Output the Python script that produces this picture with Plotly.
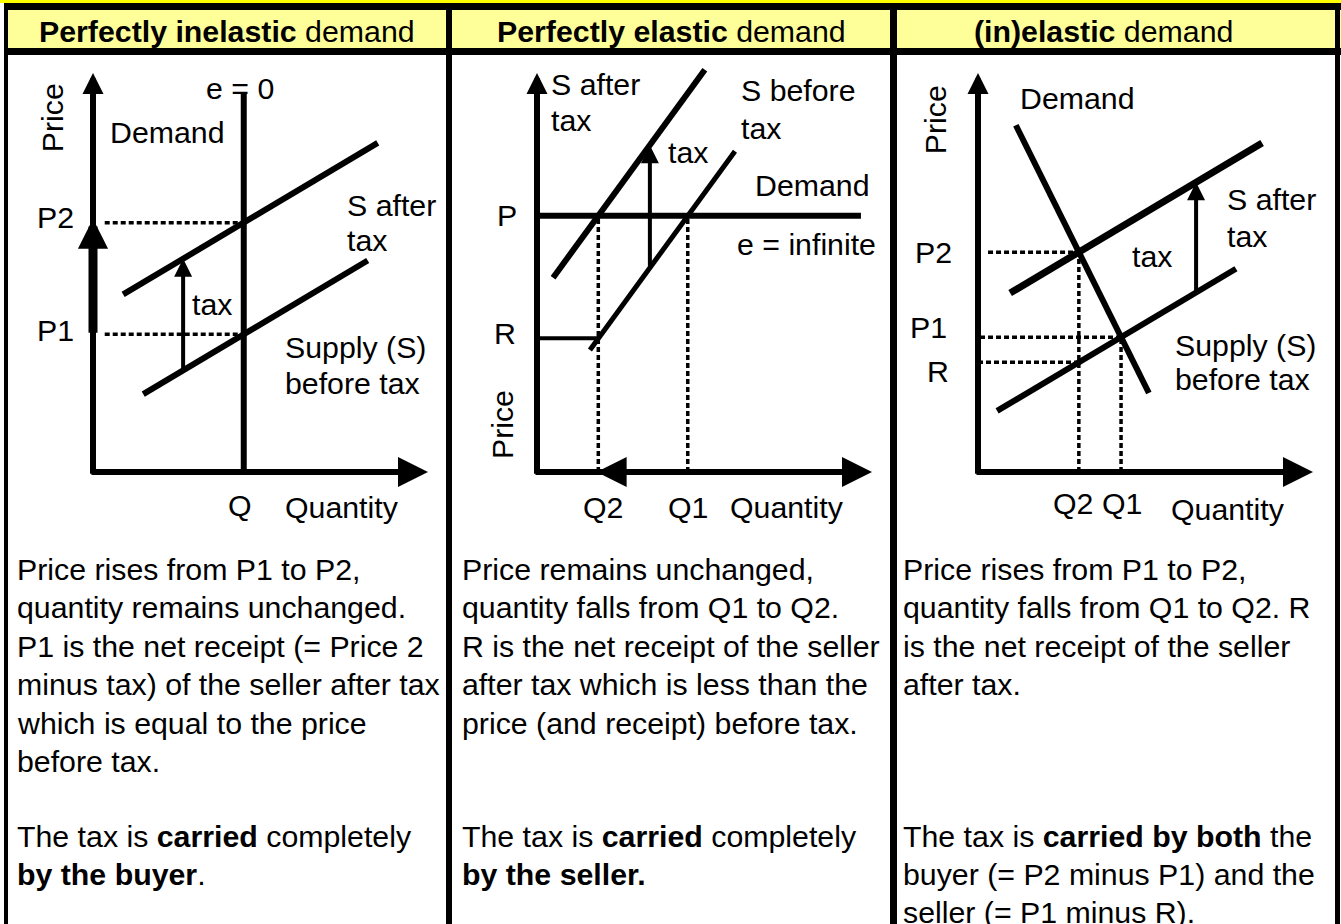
import plotly.graph_objects as go

W, H = 1341, 924
FONT = "Liberation Sans, Arial, sans-serif"
FS = 30.3

# ---------------- data (conceptual units: Quantity, Price) ----------------
# Panel 1 - perfectly inelastic demand
p1_Q = 4.5
p1_P1 = 3.45
p1_P2 = 6.25
p1_demand_q = [4.5, 4.5]
p1_demand_p = [0.0, 9.5]
p1_supply_q = [1.5, 8.2]
p1_supply_p = [1.95, 5.30]
p1_safter_q = [0.9, 8.5]
p1_safter_p = [4.45, 8.25]
p1_tax_q = 2.69
p1_tax_p = [2.545, 5.345]

# Panel 2 - perfectly elastic demand
p2_P = 6.42
p2_R = 3.35
p2_Q1 = 4.5
p2_Q2 = 1.83
p2_demand_q = [0.0, 9.67]
p2_demand_p = [6.42, 6.42]
p2_sbefore_q = [1.58, 5.91]
p2_sbefore_p = [3.06, 8.04]
p2_safter_q = [0.48, 5.01]
p2_safter_p = [4.87, 10.08]
p2_tax_q = 3.37
p2_tax_p = [5.12, 8.19]

# Panel 3 - (in)elastic demand
p3_Q1 = 4.27
p3_Q2 = 3.01
p3_P1 = 3.38
p3_P2 = 5.51
p3_R = 2.75
p3_demand_q = [1.13, 5.10]
p3_demand_p = [8.69, 1.98]
p3_sbefore_q = [0.57, 7.70]
p3_sbefore_p = [1.53, 5.095]
p3_safter_q = [0.96, 8.48]
p3_safter_p = [4.485, 8.245]
p3_tax_q = 6.51
p3_tax_p = [4.50, 7.26]

AXIS_MAX = 10.0

headers = [
    "<b>Perfectly inelastic</b> demand",
    "<b>Perfectly elastic</b> demand",
    "<b>(in)elastic</b> demand",
]
body_top = [
    ["Price rises from P1 to P2,", "quantity remains unchanged.",
     "P1 is the net receipt (= Price 2", "minus tax) of the seller after tax",
     "which is equal to the price", "before tax."],
    ["Price remains unchanged,", "quantity falls from Q1 to Q2.",
     "R is the net receipt of the seller", "after tax which is less than the",
     "price (and receipt) before tax."],
    ["Price rises from P1 to P2,", "quantity falls from Q1 to Q2. R",
     "is the net receipt of the seller", "after tax."],
]
body_bottom = [
    ["The tax is <b>carried</b> completely", "<b>by the buyer</b>."],
    ["The tax is <b>carried</b> completely", "<b>by the seller.</b>"],
    ["The tax is <b>carried by both</b> the", "buyer (= P2 minus P1) and the",
     "seller (= P1 minus R)."],
]

# ---------------- layout geometry (pixels) ----------------
UX, UY = 33.5, 39.9
panels = [
    dict(ox=93, oy=472, cx0=8, cx1=446),
    dict(ox=537, oy=472, cx0=452, cx1=890),
    dict(ox=978, oy=472, cx0=897, cx1=1335),
]
CY0, CY1 = 56, 540
col_text_x = [15, 460, 901]
col_head_x = [227, 671, 1103]


def px(x):
    return x / W


def py(y):
    return 1 - y / H


fig = go.Figure()
layout = dict(width=W, height=H, margin=dict(l=0, r=0, t=0, b=0),
              paper_bgcolor="white", plot_bgcolor="rgba(0,0,0,0)",
              showlegend=False, font=dict(family=FONT, size=FS, color="black"))
for i, pn in enumerate(panels):
    s = "" if i == 0 else str(i + 1)
    layout["xaxis" + s] = dict(domain=[px(pn["cx0"]), px(pn["cx1"])],
                               range=[(pn["cx0"] - pn["ox"]) / UX, (pn["cx1"] - pn["ox"]) / UX],
                               visible=False, fixedrange=True, anchor="y" + s)
    layout["yaxis" + s] = dict(domain=[py(CY1), py(CY0)],
                               range=[(pn["oy"] - CY1) / UY, (pn["oy"] - CY0) / UY],
                               visible=False, fixedrange=True, anchor="x" + s)
fig.update_layout(**layout)

annotations = []
shapes = []


def line(q, p, ax, width=6, dash=None):
    s = "" if ax == 1 else str(ax)
    fig.add_trace(go.Scatter(x=q, y=p, mode="lines", xaxis="x" + s, yaxis="y" + s,
                             line=dict(color="black", width=width, dash=dash),
                             hoverinfo="skip", showlegend=False))


def dotted(q, p, ax):
    line(q, p, ax, width=3.5, dash="5px,3px")


def arrow(q0, p0, q1, p1, ax, width=4, size=0.9):
    s = "" if ax == 1 else str(ax)
    annotations.append(dict(x=q1, y=p1, ax=q0, ay=p0, xref="x" + s, yref="y" + s,
                            axref="x" + s, ayref="y" + s, text="", showarrow=True,
                            arrowhead=2, arrowwidth=width, arrowsize=size,
                            arrowcolor="black", standoff=0, startstandoff=0))


def label(q, p, text, ax, xanchor="center", angle=0):
    s = "" if ax == 1 else str(ax)
    annotations.append(dict(x=q, y=p, xref="x" + s, yref="y" + s, text=text,
                            showarrow=False, xanchor=xanchor, yanchor="middle",
                            textangle=angle, font=dict(family=FONT, size=FS, color="black")))


def axes(ax):
    arrow(0, -0.08, 0, AXIS_MAX, ax, width=6, size=0.7)
    arrow(-0.09, 0, AXIS_MAX, 0, ax, width=6, size=1.0)


# ---- Panel 1 ----
axes(1)
line(p1_demand_q, p1_demand_p, 1)
line(p1_supply_q, p1_supply_p, 1)
line(p1_safter_q, p1_safter_p, 1)
dotted([0.35, p1_Q - 0.1], [p1_P2, p1_P2], 1)
dotted([0.35, p1_Q - 0.1], [p1_P1, p1_P1], 1)
arrow(0, p1_P1, 0, p1_P2 + 0.1, 1, width=9, size=0.67)
arrow(p1_tax_q, p1_tax_p[0], p1_tax_q, p1_tax_p[1], 1)
label(-1.22, 8.87, "Price", 1, angle=-90)
label(-1.13, p1_P2 + 0.12, "P2", 1)
label(-1.13, p1_P1 + 0.1, "P1", 1)
label(2.21, 8.52, "Demand", 1)
label(4.39, 9.62, "e = 0", 1)
label(3.55, 4.19, "tax", 1)
label(7.52, 6.69, "S after", 1, "left")
label(7.52, 5.81, "tax", 1, "left")
label(5.67, 3.11, "Supply (S)", 1, "left")
label(5.67, 2.23, "before tax", 1, "left")
label(p1_Q - 0.1, -0.83, "Q", 1)
label(5.67, -0.90, "Quantity", 1, "left")

# ---- Panel 2 ----
axes(2)
line(p2_demand_q, p2_demand_p, 2)
line(p2_sbefore_q, p2_sbefore_p, 2, width=5)
line(p2_safter_q, p2_safter_p, 2)
line([0, p2_Q2], [p2_R, p2_R], 2, width=4)
dotted([p2_Q2, p2_Q2], [0, p2_P], 2)
dotted([p2_Q1, p2_Q1], [0, p2_P], 2)
arrow(p2_Q1, 0, p2_Q2 - 0.05, 0, 2, width=6, size=1.0)
arrow(p2_tax_q, p2_tax_p[0], p2_tax_q, p2_tax_p[1], 2)
label(-0.90, 6.44, "P", 2)
label(-0.96, 3.48, "R", 2)
label(-1.01, 1.18, "Price", 2, angle=-90)
label(0.36, 9.70, "S after", 2, "left")
label(0.36, 8.82, "tax", 2, "left")
label(6.03, 9.57, "S before", 2, "left")
label(6.03, 8.62, "tax", 2, "left")
label(4.51, 8.0, "tax", 2)
label(8.21, 7.19, "Demand", 2)
label(5.91, 5.69, "e = infinite", 2, "left")
label(1.97, -0.90, "Q2", 2)
label(4.51, -0.90, "Q1", 2)
label(5.70, -0.90, "Quantity", 2, "left")

# ---- Panel 3 ----
axes(3)
line(p3_demand_q, p3_demand_p, 3)
line(p3_sbefore_q, p3_sbefore_p, 3)
line(p3_safter_q, p3_safter_p, 3, width=7)
dotted([0.3, p3_Q2], [p3_P2, p3_P2], 3)
dotted([p3_Q2, p3_Q2], [0, p3_P2], 3)
dotted([0.06, p3_Q1], [p3_P1, p3_P1], 3)
dotted([p3_Q1, p3_Q1], [0, p3_P1], 3)
dotted([0.0, p3_Q2 - 0.05], [p3_R, p3_R], 3)
arrow(p3_tax_q, p3_tax_p[0], p3_tax_q, p3_tax_p[1], 3)
label(-1.28, 8.82, "Price", 3, angle=-90)
label(1.19, 9.37, "Demand", 3, "left")
label(-1.34, 5.49, "P2", 3)
label(-1.49, 3.63, "P1", 3)
label(-1.19, 2.51, "R", 3)
label(7.37, 6.82, "S after", 3, "left")
label(7.37, 5.89, "tax", 3, "left")
label(5.19, 5.39, "tax", 3)
label(5.82, 3.18, "Supply (S)", 3, "left")
label(5.82, 2.31, "before tax", 3, "left")
label(2.84, -0.78, "Q2", 3)
label(4.30, -0.78, "Q1", 3)
label(5.70, -0.95, "Quantity", 3, "left")


# ---------------- table frame ----------------
def rect(x0, y0, x1, y1, color):
    shapes.append(dict(type="rect", xref="paper", yref="paper",
                       x0=px(x0), x1=px(x1), y0=py(y1), y1=py(y0),
                       fillcolor=color, line=dict(width=0), layer="below"))


rect(0, 0, W, 3, "#FFFF00")
rect(4, 10, W, 48, "#FFFF99")
rect(4, 3, W, 10, "black")
rect(4, 48, W, 55, "black")
for x0, x1 in [(4, 8), (446, 452), (890, 897), (1335, 1340)]:
    rect(x0, 3, x1, H, "black")

for i in range(3):
    annotations.append(dict(x=px(col_head_x[i]), y=py(31.7), xref="paper", yref="paper",
                            text=headers[i], showarrow=False, xanchor="center",
                            yanchor="middle", font=dict(family=FONT, size=FS, color="black")))
    for k, t in enumerate(body_top[i]):
        annotations.append(dict(x=px(col_text_x[i]), y=py(569 + 38.5 * k), xref="paper",
                                yref="paper", text=t, showarrow=False, xanchor="left",
                                yanchor="middle", font=dict(family=FONT, size=FS, color="black")))
    for k, t in enumerate(body_bottom[i]):
        annotations.append(dict(x=px(col_text_x[i]), y=py(836 + 38 * k), xref="paper",
                                yref="paper", text=t, showarrow=False, xanchor="left",
                                yanchor="middle", font=dict(family=FONT, size=FS, color="black")))

fig.update_layout(annotations=annotations, shapes=shapes)
fig.write_html("out.html", config={"displayModeBar": False},
               post_script="document.body.style.margin='0';document.body.style.overflow='hidden';")
